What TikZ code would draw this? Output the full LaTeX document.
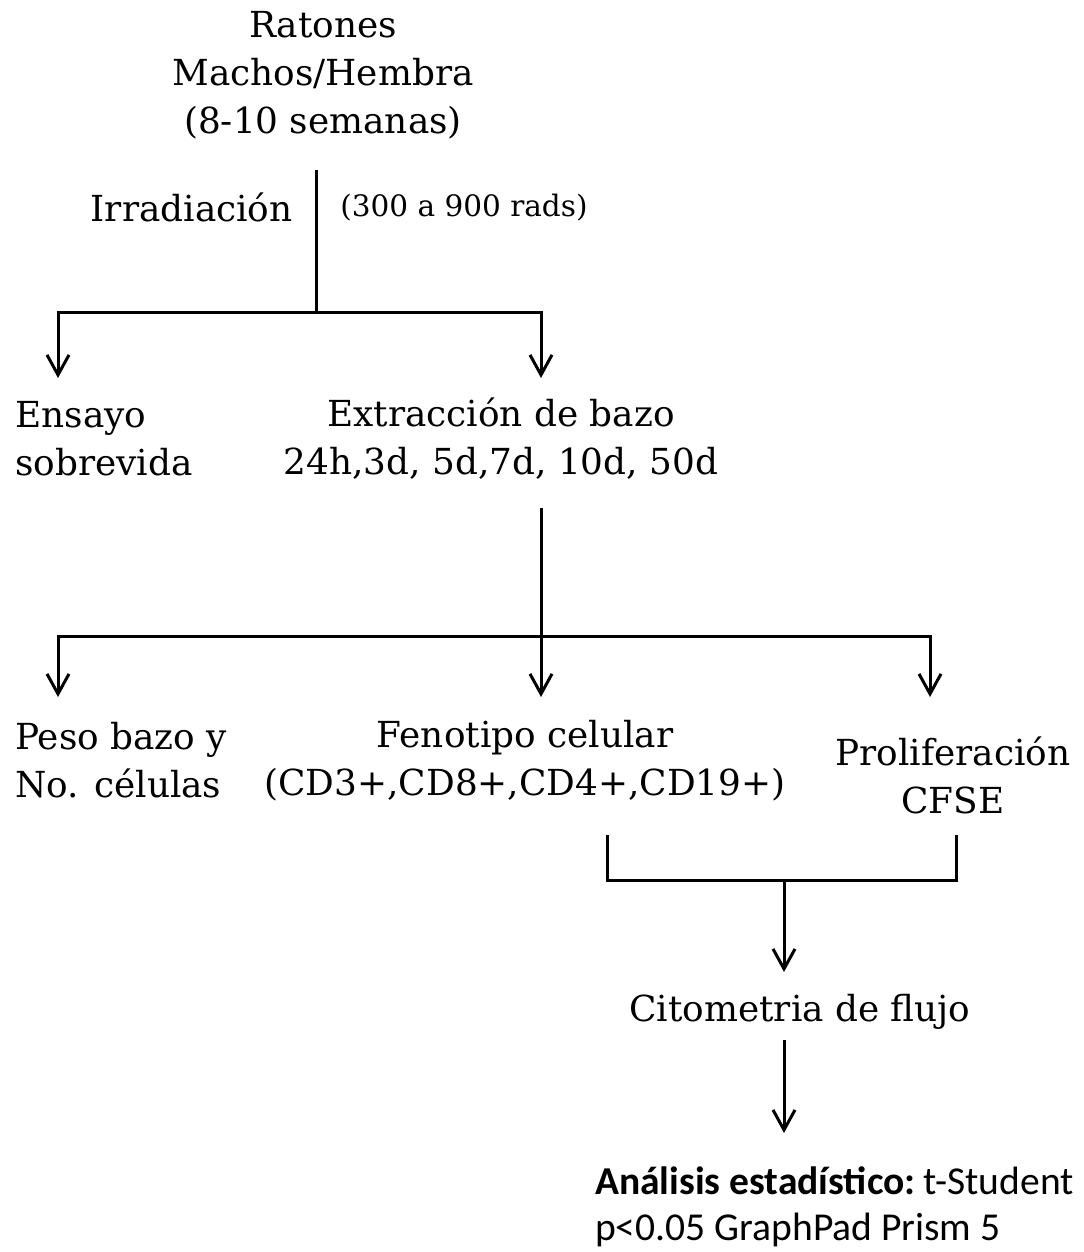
\documentclass[tikz,border=0pt]{standalone}
\usepackage{fontspec}
\setmainfont{DejaVu Serif}
\newfontfamily\calfont{Carlito}
\usepackage{tikz}
\usetikzlibrary{arrows.meta,positioning}

\begin{document}
\begin{tikzpicture}[
    txt/.style={inner sep=2pt, align=center, font=\fontsize{20.4}{27.3}\selectfont},
    small/.style={inner sep=2pt, font=\fontsize{16.8}{22}\selectfont},
    line/.style={line width=0.06cm},
    arrow/.style={-{Straight Barb[length=4mm,width=4.4mm]}, line width=0.06cm}
]
\useasboundingbox (0,0) rectangle (21.66,-25.04);

% textos
\node[txt] (rat) at (6.46,-1.5) {Ratones\\Machos/Hembra\\(8-10 semanas)};
\node[txt, anchor=east] (irr) at (5.93,-4.14) {Irradiación};
\node[small, anchor=west] (rads) at (6.73,-4.16) {(300 a 900 rads)};
\node[txt, align=left, anchor=west] (ens) at (0.23,-8.77) {Ensayo\\sobrevida};
\node[txt] (ext) at (10.02,-8.77) {Extracción de bazo\\24h,3d, 5d,7d, 10d, 50d};
\node[txt, align=left, anchor=west] (peso) at (0.23,-15.21) {Peso bazo y\\No. células};
\node[txt] (feno) at (10.5,-15.21) {Fenotipo celular\\(CD3+,CD8+,CD4+,CD19+)};
\node[txt] (prol) at (19.06,-15.5) {Proliferación\\CFSE};
\node[txt] (cit) at (16.0,-20.24) {Citometria de flujo};
\node[inner sep=1pt, align=left, anchor=west, font=\calfont\fontsize{22.5}{26}\selectfont] (ana) at (11.86,-24.14)
    {\textbf{Análisis estadístico:}\hspace{-0.1em} t-Student\\p<0.05 GraphPad Prism 5};

% puntos de union
\coordinate (t1) at (6.32,-3.4);
\coordinate (j1) at (6.32,-6.26);
\coordinate (a1) at (1.16,-7.56);
\coordinate (a2) at (10.82,-7.56);
\coordinate (t2) at (10.82,-10.16);
\coordinate (j2) at (10.82,-12.72);
\coordinate (b1) at (1.16,-13.94);
\coordinate (b2) at (10.82,-13.94);
\coordinate (b3) at (18.6,-13.94);
\coordinate (c1) at (12.14,-16.7);
\coordinate (c2) at (19.12,-16.7);
\coordinate (j3) at (15.68,-17.6);
\coordinate (d1) at (15.68,-19.44);
\coordinate (e1) at (15.68,-20.8);
\coordinate (d2) at (15.68,-22.66);

% conectores
\draw[line] (t1) -- (j1);
\draw[arrow] (j1) -| (a1);
\draw[arrow] (j1) -| (a2);
\draw[arrow] (t2) -- (b2);
\draw[arrow] (j2) -| (b1);
\draw[arrow] (j2) -| (b3);
\draw[line] (c1) |- (j3);
\draw[line] (c2) |- (j3);
\draw[arrow] (j3) -- (d1);
\draw[arrow] (e1) -- (d2);
\end{tikzpicture}
\end{document}
